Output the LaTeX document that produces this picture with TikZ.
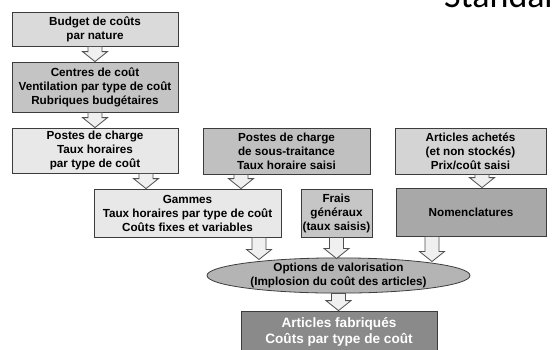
\documentclass[tikz,border=0pt]{standalone}
\usepackage{fontspec}
\setmainfont{Liberation Sans}
\newfontfamily\titlefont{Carlito}
\usetikzlibrary{shapes.geometric,calc}
\definecolor{cBud}{RGB}{218,218,218}
\definecolor{cCen}{RGB}{196,196,196}
\definecolor{cLt}{RGB}{232,232,232}
\definecolor{cSt}{RGB}{192,192,192}
\definecolor{cAch}{RGB}{212,212,212}
\definecolor{cFr}{RGB}{198,198,198}
\definecolor{cNom}{RGB}{168,168,168}
\definecolor{cOpt}{RGB}{180,180,180}
\definecolor{cFab}{RGB}{138,138,138}
\definecolor{cLine}{RGB}{60,60,60}
\definecolor{cArF}{RGB}{240,240,240}
\definecolor{cArL}{RGB}{80,80,80}
\begin{document}
\begin{tikzpicture}[x=1pt,y=-1pt,
  bx/.style={draw=cLine,line width=0.8pt,align=center,inner sep=1pt,
    font=\bfseries\fontsize{11.7}{14}\selectfont},
  el/.style={bx,ellipse,fill=cOpt,minimum width=263pt,minimum height=33pt,inner sep=0pt},
  ar/.style={draw=cArL,fill=cArF,line width=0.8pt,
    to path={let \p1=(\tikztostart), \p2=(\tikztotarget) in
      (\x1-7pt,\y1) -- (\x1+7pt,\y1) -- (\x1+7pt,\y2+10pt) -- (\x1+12.5pt,\y2+10pt)
      -- (\x1,\y2) -- (\x1-12.5pt,\y2+10pt) -- (\x1-7pt,\y2+10pt) -- cycle}}]
\clip (0,0) rectangle (553,349);
\useasboundingbox (0,0) rectangle (553,349);
%------------- title (cut off at the page edge)
\node[anchor=base west,inner sep=0pt,font=\titlefont\fontsize{36}{42}\selectfont] (std) at (444,7) {Standard};
%------------- left column
\node[bx,fill=cBud,minimum width=166pt,minimum height=34pt] (bud) at (95,29) {Budget de coûts\\par nature};
\node[bx,fill=cCen,minimum width=166pt,minimum height=50pt] (cen) at (95,87) {Centres de coût\\Ventilation par type de coût\\Rubriques budgétaires};
%------------- row: postes, sous-traitance, achats
\node[bx,fill=cLt,minimum width=166pt,minimum height=45pt] (pch) at (95,150.5) {Postes de charge\\Taux horaires\\par type de coût};
\node[bx,fill=cSt,minimum width=167pt,minimum height=46pt] (pst) at (286.5,151) {Postes de charge\\de sous-traitance\\Taux horaire saisi};
\node[bx,fill=cAch,minimum width=151pt,minimum height=46pt] (ach) at (470.5,151) {Articles achetés\\(et non stockés)\\Prix/coût saisi};
%------------- row: gammes, frais, nomenclatures
\node[bx,fill=cLt,minimum width=187pt,minimum height=48pt] (gam) at (187.5,213) {Gammes\\Taux horaires par type de coût\\Coûts fixes et variables};
\node[bx,fill=cFr,minimum width=71pt,minimum height=48pt] (fra) at (336.5,213) {Frais\\généraux\\(taux saisis)};
\node[bx,fill=cNom,minimum width=150pt,minimum height=48pt] (nom) at (471,212) {Nomenclatures};
%------------- valorisation and result
\node[el] (opt) at (338.5,275.5) {Options de valorisation\\(Implosion du coût des articles)};
\node[bx,fill=cFab,text=white,minimum width=196pt,minimum height=42pt,
  font=\bfseries\fontsize{13.6}{16}\selectfont] (fab) at (339,332) {Articles fabriqués\\Coûts par type de coût};
%------------- block arrows
\draw[ar] (bud.south) to (cen.north);
\draw[ar] (cen.south) to (pch.north);
\draw[ar] ([xshift=51pt]pch.south) to ([xshift=51pt]pch.south |- gam.north);
\draw[ar] ([xshift=-45.5pt]pst.south) to ([xshift=-45.5pt]pst.south |- gam.north);
\draw[ar] ([xshift=11.5pt]ach.south) to ([xshift=11.5pt]ach.south |- nom.north);
\draw[ar] ([xshift=71.5pt]gam.south) to ([xshift=71.5pt,yshift=-2pt]gam.south |- opt.north);
\draw[ar] (fra.south) to ([yshift=-1pt]fra.south |- opt.north);
\draw[ar] ([xshift=-39pt]nom.south) to ([xshift=-39pt,yshift=-4pt]nom.south |- opt.north);
\draw[ar] (opt.south) to (fab.north);
\end{tikzpicture}
\end{document}
